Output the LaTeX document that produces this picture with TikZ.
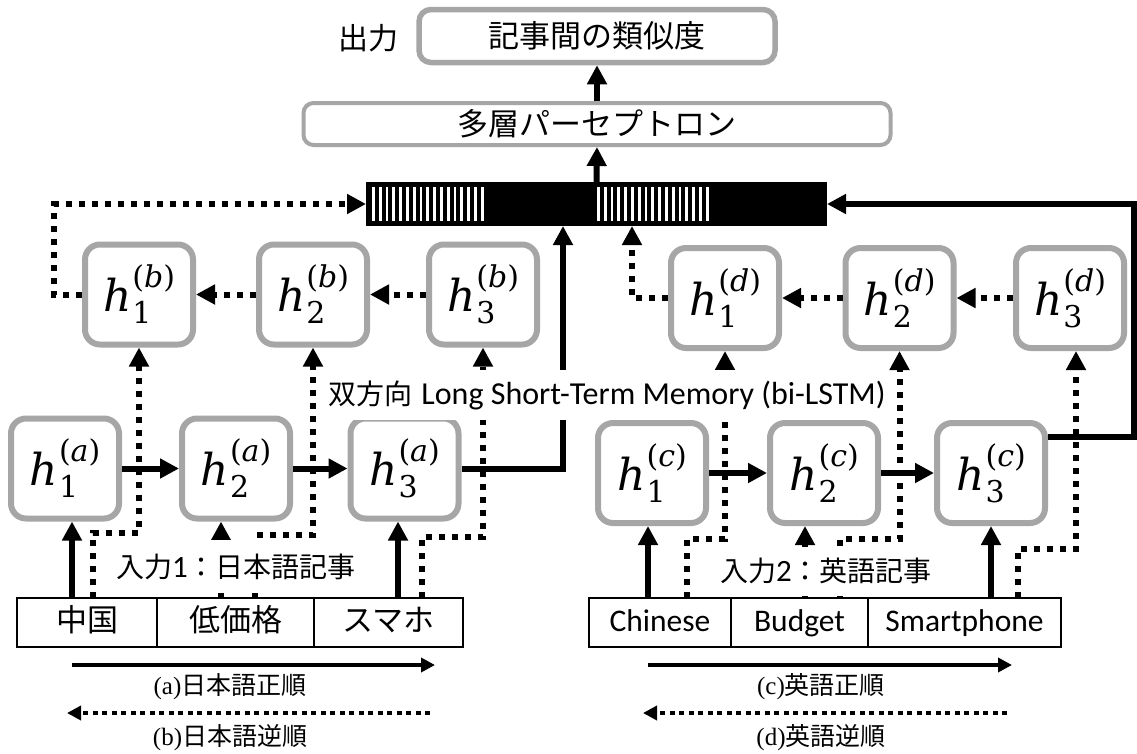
\RequirePackage{fix-cm}
\documentclass[tikz,border=0pt]{standalone}
\usepackage{fontspec}
\setmainfont{Carlito}
\newfontfamily\jp{Noto Sans CJK JP}
\newfontfamily\tms{Liberation Serif}
\newfontfamily\hfont{DejaVu Serif}
\usetikzlibrary{arrows.meta}
\definecolor{boxgray}{RGB}{166,166,166}
\newcommand{\hlab}[2]{{\fontsize{44}{48}\selectfont\hfont\itshape h}\kern1pt\rlap{\raisebox{-12pt}{\fontsize{30}{32}\selectfont\hfont #1}}\raisebox{24pt}{\fontsize{30}{32}\selectfont\hfont(\textit{#2})}}
\begin{document}
\begin{tikzpicture}[x=1pt,y=-1pt,
 hbox/.style={draw=boxgray,line width=6pt,rounded corners=15pt,minimum width=108pt,minimum height=100pt,inner sep=0pt},
 cell/.style={draw=black,line width=1.4pt,minimum height=49pt,inner sep=0pt,text height=24pt,text depth=6pt,font=\fontsize{31.5}{36}\selectfont},
 jcell/.style={cell,font=\fontsize{31}{36}\selectfont\jp},
 topbox/.style={draw=boxgray,inner sep=0pt,font=\fontsize{31}{36}\selectfont\jp},
 solidarr/.style={line width=6pt,-{Triangle[length=19pt,width=19pt]}},
 dotarr/.style={line width=6pt,dash pattern=on 6pt off 7pt,-{Triangle[length=19pt,width=19pt]}},
 legsolid/.style={line width=4.5pt,-{Triangle[length=14pt,width=14pt]}},
 legdot/.style={line width=4.5pt,dash pattern=on 5pt off 4.5pt,-{Triangle[length=14pt,width=14pt]}},
 whitelabel/.style={fill=white,inner xsep=2pt,inner ysep=0pt},
 leglabel/.style={inner sep=0pt,font=\fontsize{25}{28}\selectfont}
]
\fill[white] (0,0) rectangle (1137,753);
\useasboundingbox (0,0) rectangle (1137,753);

% top boxes
\node[topbox,line width=5.5pt,rounded corners=12pt,minimum width=356pt,minimum height=53pt] (out) at (597,36) {記事間の類似度};
\node[inner sep=0pt,font=\fontsize{30}{34}\selectfont\jp] (outlbl) at (368,38) {出力};
\node[topbox,line width=4pt,rounded corners=10pt,minimum width=587pt,minimum height=42pt] (mlp) at (597,124) {多層パーセプトロン};

% concatenated vector
\node[fill=black,minimum width=461pt,minimum height=44pt,inner sep=0pt,outer sep=0pt] (bar) at (596.5,204) {};
\foreach \i in {0,...,16} {
  \fill[white] ({372+\i*6.8},187) rectangle ++(2.8,34);
  \fill[white] ({597+\i*6.8},187) rectangle ++(2.8,34);
}

\draw[solidarr] (bar.north) -- (mlp.south);
\draw[solidarr] (mlp.north) -- (out.south);

% hidden states
\node[hbox] (h1b) at (139,294.5) {\hlab{1}{b}};
\node[hbox] (h2b) at (313,294.5) {\hlab{2}{b}};
\node[hbox] (h3b) at (483,294.5) {\hlab{3}{b}};
\node[hbox] (h1a) at (65,468.5) {\hlab{1}{a}};
\node[hbox] (h2a) at (236,468.5) {\hlab{2}{a}};
\node[hbox] (h3a) at (404.5,468.5) {\hlab{3}{a}};
\node[hbox] (h1d) at (725,298) {\hlab{1}{d}};
\node[hbox] (h2d) at (899.5,298) {\hlab{2}{d}};
\node[hbox] (h3d) at (1070,298) {\hlab{3}{d}};
\node[hbox] (h1c) at (652,473) {\hlab{1}{c}};
\node[hbox] (h2c) at (824,473) {\hlab{2}{c}};
\node[hbox] (h3c) at (991,473) {\hlab{3}{c}};

% word cells
\node[jcell,minimum width=140pt] (j1) at (87,622.5) {中国};
\node[jcell,minimum width=157pt] (j2) at (235.5,622.5) {低価格};
\node[jcell,minimum width=149pt] (j3) at (388.5,622.5) {スマホ};
\node[cell,minimum width=142pt] (e1) at (660,622.5) {Chinese};
\node[cell,minimum width=137pt] (e2) at (799.5,622.5) {Budget};
\node[cell,minimum width=193pt] (e3) at (964.5,622.5) {Smartphone};

% chains
\draw[solidarr] (h1a) -- (h2a);
\draw[solidarr] (h2a) -- (h3a);
\draw[solidarr] (h1c) -- (h2c);
\draw[solidarr] (h2c) -- (h3c);
\draw[dotarr] (h3b) -- (h2b);
\draw[dotarr] (h2b) -- (h1b);
\draw[dotarr] (h3d) -- (h2d);
\draw[dotarr] (h2d) -- (h1d);

% into the vector
\coordinate (xa) at (563,0);
\coordinate (xd) at (632,0);
\draw[dotarr] (h1b.west) -- ++(-28,0) |- (bar.west);
\draw[dotarr] (h1d.west) -| (bar.south -| xd);
\draw[solidarr] (h3a.east) -| (bar.south -| xa);
\draw[solidarr] ([yshift=36pt]h3c.east) -- ++(86,0) |- (bar.east);

% inputs
\coordinate (sa1) at (72,598);
\coordinate (sa2) at (221,598);
\coordinate (sa3) at (398,598);
\coordinate (se1) at (648,598);
\coordinate (se2) at (805,598);
\coordinate (se3) at (991,598);
\draw[solidarr] (sa1) -- (sa1 |- h1a.south);
\draw[solidarr] (sa2) -- (sa2 |- h2a.south);
\draw[solidarr] (sa3) -- (sa3 |- h3a.south);
\draw[solidarr] (se1) -- (se1 |- h1c.south);
\draw[solidarr] (se2) -- (se2 |- h2c.south);
\draw[solidarr] (se3) -- (se3 |- h3c.south);

\coordinate (da1) at (93,598);
\coordinate (da2) at (255,598);
\coordinate (da3) at (422,598);
\coordinate (de1) at (687,598);
\coordinate (de2) at (840,598);
\coordinate (de3) at (1018,598);
\draw[dotarr] (da1) -- ++(0,-65) -| (h1b.south);
\draw[dotarr] (da2) -- ++(0,-63) -| (h2b.south);
\draw[dotarr] (da3) -- ++(0,-61) -| (h3b.south);
\draw[dotarr] (de1) -- ++(0,-59) -| (h1d.south);
\draw[dotarr] (de2) -- ++(0,-59) -| (h2d.south);
\draw[dotarr] (de3) -- ++(0,-49) -| ([xshift=6pt]h3d.south);

% labels over lines
\node[whitelabel,minimum height=50pt] (bilstm) at (607,395)
  {{\fontsize{28}{30}\selectfont\jp 双方向}\hspace{9pt}{\fontsize{32}{34}\selectfont Long Short-Term Memory (bi-LSTM)}};
\node[whitelabel,minimum height=53pt,font=\fontsize{28}{30}\selectfont] (in1) at (236,566.5)
  {{\jp 入力}{\fontsize{31}{34}\selectfont 1}{\jp ：日本語記事}};
\node[whitelabel,minimum height=49pt,font=\fontsize{28}{30}\selectfont] (in2) at (826,571)
  {{\jp 入力}{\fontsize{31}{34}\selectfont 2}{\jp ：英語記事}};

% legend
\coordinate (la0) at (72,665);  \coordinate (la1) at (435,665);
\coordinate (lb0) at (430,713); \coordinate (lb1) at (67,713);
\coordinate (lc0) at (648,665); \coordinate (lc1) at (1012,665);
\coordinate (ld0) at (1007,713); \coordinate (ld1) at (643,713);
\draw[legsolid] (la0) -- (la1);
\draw[legdot] (lb0) -- (lb1);
\draw[legsolid] (lc0) -- (lc1);
\draw[legdot] (ld0) -- (ld1);
\node[leglabel] (laL) at (230,687) {{\tms (a)}{\jp 日本語正順}};
\node[leglabel] (lbL) at (230,738) {{\tms (b)}{\jp 日本語逆順}};
\node[leglabel] (lcL) at (821,687) {{\tms (c)}{\jp 英語正順}};
\node[leglabel] (ldL) at (821,738) {{\tms (d)}{\jp 英語逆順}};
\end{tikzpicture}
\end{document}
